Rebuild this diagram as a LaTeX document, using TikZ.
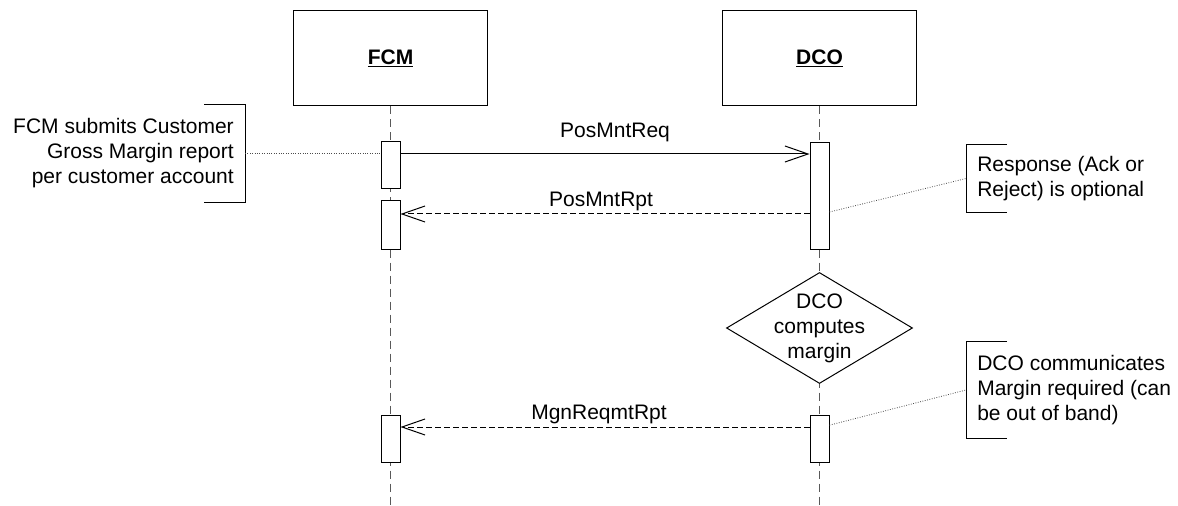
\documentclass[tikz,border=0pt]{standalone}
\usepackage{fontspec}
\setmainfont{Liberation Sans}
\usepackage{tikz}
\usetikzlibrary{arrows.meta,positioning,shapes.geometric}

\begin{document}
\begin{tikzpicture}[x=0.75pt, y=-0.75pt,
  every node/.style={font=\fontsize{15.75}{18.75}\selectfont},
  head/.style={draw, fill=white, line width=0.75pt, minimum width=145.5pt, minimum height=71.25pt},
  act/.style={draw, fill=white, line width=0.75pt, inner sep=0pt, minimum width=14.25pt},
  lifeline/.style={draw=black!65, line width=0.9pt, dash pattern=on 6pt off 3.75pt},
  msg/.style={line width=0.75pt, -{Straight Barb[length=17.25pt, width=12pt]}},
  reply/.style={msg, dash pattern=on 4.5pt off 2.25pt},
  notelink/.style={draw=black!70, line width=0.6pt, dash pattern=on 0.6pt off 1.2pt},
  decision/.style={diamond, draw, fill=white, line width=0.75pt, inner sep=0pt,
    minimum width=139.5pt, minimum height=83.25pt},
  notetext/.style={inner xsep=8.25pt, inner ysep=0pt}]

  \useasboundingbox (0,0) rectangle (1178,506);

  % Define the two participants
  \node[head] (fcm) at (390.5,58.5) {\underline{\textbf{FCM}}};
  \node[head] (dco) at (819.5,58.5) {\underline{\textbf{DCO}}};
  \coordinate (fcmEnd) at (390.5,506);
  \coordinate (dcoEnd) at (819.5,506);

  % Lifelines
  \draw[lifeline] (fcm.south) -- (fcmEnd);
  \draw[lifeline] (dco.south) -- (dcoEnd);

  % Activation bars
  \node[act, minimum height=35.25pt] (fa1) at (390.5,165.5) {};
  \node[act, minimum height=36pt] (fa2) at (390.5,225) {};
  \node[act, minimum height=35.25pt] (fa3) at (390.5,438.5) {};
  \node[act, minimum height=79.5pt] (da1) at (819.5,196) {};
  \node[act, minimum height=35.25pt] (da2) at (819.5,438.5) {};

  % Computation step on the DCO lifeline
  \node[decision] (calc) at (819.5,328) {};
  \node[align=center] (calcText) at (calc.center) {DCO\\computes\\margin};

  % Notes
  \node[notetext, anchor=east, align=right, minimum height=72.75pt] (noteL) at (245,153.5)
    {FCM submits Customer\\Gross Margin report\\per customer account};
  \node[notetext, anchor=west, align=left, minimum height=50.25pt] (noteA) at (966,178.5)
    {Response (Ack or\\Reject) is optional};
  \node[notetext, anchor=west, align=left, minimum height=72pt] (noteB) at (966,390)
    {DCO communicates\\Margin required (can\\be out of band)};

  \draw[line width=0.75pt] (noteL.north east) ++(-41,0) -- (noteL.north east) -- (noteL.south east) -- ++(-41,0);
  \draw[line width=0.75pt] (noteA.north west) ++(41,0) -- (noteA.north west) -- (noteA.south west) -- ++(41,0);
  \draw[line width=0.75pt] (noteB.north west) ++(41,0) -- (noteB.north west) -- (noteB.south west) -- ++(41,0);

  % Message rows
  \coordinate (r1) at (0,154);
  \coordinate (r2) at (0,214);
  \coordinate (r3) at (0,427);

  % Draw messages between lifelines
  \draw[msg] (fa1.east |- r1) -- (da1.west |- r1);
  \draw[reply] (da1.west |- r2) -- (fa2.east |- r2);
  \draw[reply] (da2.west |- r3) -- (fa3.east |- r3);
  \node (m1) at (615,132) {PosMntReq};
  \node (m2) at (601,201) {PosMntRpt};
  \node (m3) at (599,414.5) {MgnReqmtRpt};

  % Links from notes
  \draw[notelink] (noteL.east) -- (noteL.east -| fa1.west);
  \draw[notelink] ([yshift=-12pt]da1.east) -- (noteA.west);
  \draw[notelink] ([yshift=10pt]da2.east) -- (noteB.west);

\end{tikzpicture}
\end{document}
